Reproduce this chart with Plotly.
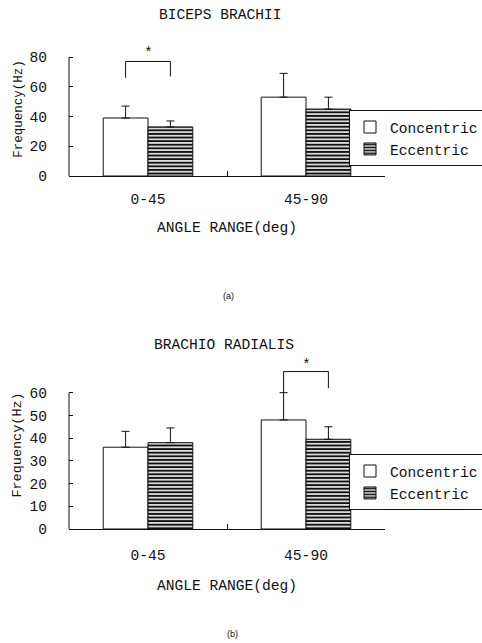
import plotly.graph_objects as go

# ---------------- data ----------------
categories = ["0-45", "45-90"]
series_names = ["Concentric", "Eccentric"]

# (a) Biceps brachii
biceps_concentric = [39, 53]
biceps_concentric_err = [8, 16]
biceps_eccentric = [33, 45]
biceps_eccentric_err = [4, 8]

# (b) Brachio radialis
brachio_concentric = [36, 48]
brachio_concentric_err = [7, 12]
brachio_eccentric = [38, 39.5]
brachio_eccentric_err = [6.5, 5.5]

# significance brackets: (group index, left end, top, right end, star y)
biceps_sig = (0, 66, 77, 67, 83)
brachio_sig = (1, 60, 69.3, 62, 72)

biceps_ticks = [0, 20, 40, 60, 80]
brachio_ticks = [0, 10, 20, 30, 40, 50, 60]

# ---------------- style ----------------
FONT = "Liberation Mono"
FS = 14.6
BARGAP = 0.433
BLACK = "#111111"
H = 643.0

fig = go.Figure()


def add_pair(conc, conc_err, ecc, ecc_err, xa, ya, legend):
    fig.add_trace(go.Bar(
        x=categories, y=conc, name=series_names[0], xaxis=xa, yaxis=ya,
        legend=legend,
        marker=dict(color="white", line=dict(color=BLACK, width=1)),
        error_y=dict(type="data", array=conc_err, arrayminus=[0] * len(conc),
                     symmetric=False, color=BLACK, thickness=1, width=4),
    ))
    fig.add_trace(go.Bar(
        x=categories, y=ecc, name=series_names[1], xaxis=xa, yaxis=ya,
        legend=legend,
        marker=dict(color="white", line=dict(color=BLACK, width=1),
                    pattern=dict(shape="-", fgcolor=BLACK, bgcolor="white",
                                 size=3.6, solidity=0.58, fillmode="replace")),
        error_y=dict(type="data", array=ecc_err, arrayminus=[0] * len(ecc),
                     symmetric=False, color=BLACK, thickness=1, width=4),
    ))


add_pair(biceps_concentric, biceps_concentric_err, biceps_eccentric,
         biceps_eccentric_err, "x", "y", "legend")
add_pair(brachio_concentric, brachio_concentric_err, brachio_eccentric,
         brachio_eccentric_err, "x2", "y2", "legend2")

half = (1 - BARGAP) / 2 / 2  # offset of each bar center from category center
annotations = []
shapes = []
line = dict(color=BLACK, width=1)


def add_bracket(sig, xref, yref):
    g, yl, yt, yr, ys = sig
    x0, x1 = g - half, g + half
    shapes.append(dict(type="line", xref=xref, yref=yref, x0=x0, x1=x0, y0=yl, y1=yt, line=line))
    shapes.append(dict(type="line", xref=xref, yref=yref, x0=x0, x1=x1, y0=yt, y1=yt, line=line))
    shapes.append(dict(type="line", xref=xref, yref=yref, x0=x1, x1=x1, y0=yr, y1=yt, line=line))
    annotations.append(dict(x=g, y=ys, xref=xref, yref=yref, text="*", showarrow=False,
                            xanchor="center", yanchor="middle",
                            font=dict(family=FONT, size=FS, color=BLACK)))


add_bracket(biceps_sig, "x", "y")
add_bracket(brachio_sig, "x2", "y2")

# y-axis lines only up to the last tick
shapes.append(dict(type="line", xref="x domain", yref="y", x0=0, x1=0,
                   y0=biceps_ticks[0], y1=biceps_ticks[-1], line=line))
shapes.append(dict(type="line", xref="x2 domain", yref="y2", x0=0, x1=0,
                   y0=brachio_ticks[0], y1=brachio_ticks[-1], line=line))

axis_font = dict(family=FONT, size=FS, color=BLACK)
small_font = dict(family="Liberation Sans", size=9, color=BLACK)
label_common = dict(xref="paper", yref="paper", showarrow=False,
                    xanchor="center", yanchor="middle")
annotations += [
    dict(text="BICEPS BRACHII", x=220 / 482, y=1 - 15 / H, font=axis_font, **label_common),
    dict(text="BRACHIO RADIALIS", x=224 / 482, y=1 - 345 / H, font=axis_font, **label_common),
    dict(text="(a)", x=228 / 482, y=1 - 296 / H, font=small_font, **label_common),
    dict(text="(b)", x=232 / 482, y=1 - 634 / H, font=small_font, **label_common),
]

XDOM = [69 / 482, 385 / 482]

xcommon = dict(domain=XDOM, type="category", range=[-0.5, 1.5], showline=True,
               linecolor=BLACK, linewidth=1, ticks="inside", ticklen=5,
               tickcolor=BLACK, tickson="boundaries", showgrid=False,
               zeroline=False, tickfont=axis_font, automargin=False)

ycommon = dict(showline=False, ticks="inside", ticklen=4, tickcolor=BLACK,
               showgrid=False, zeroline=False, tickfont=axis_font,
               ticklabelstandoff=21, automargin=False)

# top panel: 0 -> 176 px, 80 -> 57 px; extended to 90 for bracket/star
top_px_per = (176 - 57) / 80
bot_px_per = (529 - 392.7) / 60
YTOP_MAX = 90
YBOT_MAX = 74

legend_common = dict(xanchor="left", yanchor="top", bordercolor=BLACK,
                     borderwidth=1, bgcolor="white", font=axis_font,
                     tracegroupgap=0)

fig.update_layout(
    width=482, height=643,
    margin=dict(l=0, r=0, t=0, b=0, autoexpand=False),
    paper_bgcolor="white", plot_bgcolor="white",
    barmode="group", bargap=BARGAP, bargroupgap=0,
    font=dict(family=FONT, color=BLACK),
    xaxis=dict(anchor="y", ticklabelstandoff=9,
               title=dict(text="ANGLE RANGE(deg)", font=axis_font, standoff=15),
               **xcommon),
    xaxis2=dict(anchor="y2", ticklabelstandoff=12,
                title=dict(text="ANGLE RANGE(deg)", font=axis_font, standoff=17),
                **xcommon),
    yaxis=dict(domain=[1 - 176 / H, 1 - (176 - YTOP_MAX * top_px_per) / H],
               range=[0, YTOP_MAX], tickvals=biceps_ticks, anchor="x",
               title=dict(text="Frequency(Hz)",
                          font=dict(family=FONT, size=12.5, color=BLACK),
                          standoff=4),
               **ycommon),
    yaxis2=dict(domain=[1 - 529 / H, 1 - (529 - YBOT_MAX * bot_px_per) / H],
                range=[0, YBOT_MAX], tickvals=brachio_ticks, anchor="x2",
                title=dict(text="Frequency(Hz)",
                           font=dict(family=FONT, size=13.5, color=BLACK),
                           standoff=4),
                **ycommon),
    legend=dict(x=349 / 482, y=1 - 110 / H, **legend_common),
    legend2=dict(x=349 / 482, y=1 - 454 / H, **legend_common),
    annotations=annotations,
    shapes=shapes,
)

fig.write_html(
    "out.html",
    config={"displayModeBar": False},
    post_script="document.body.style.margin='0';document.body.style.overflow='hidden';",
)
